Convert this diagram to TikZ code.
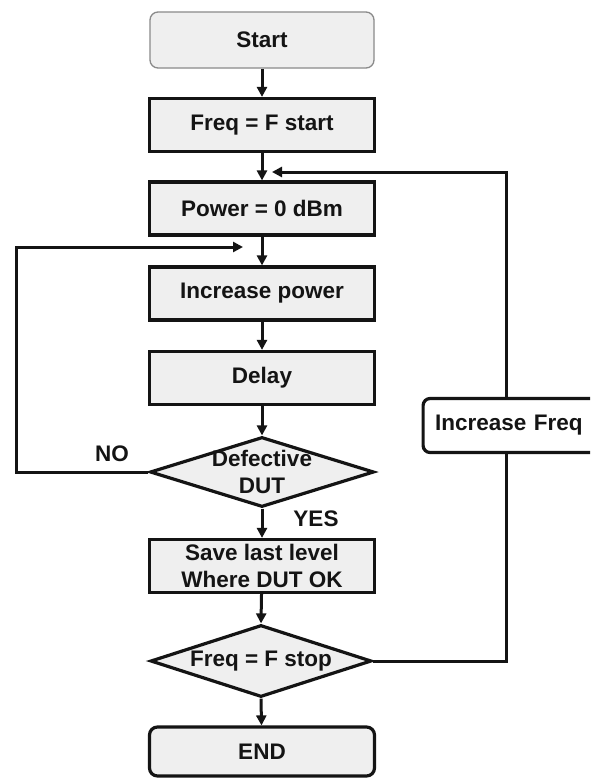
\documentclass[tikz,border=0pt]{standalone}
\usepackage{fontspec}
\setmainfont{Liberation Sans}
\usetikzlibrary{shapes.geometric,arrows.meta}
\pgfdeclarelayer{back}
\pgfdeclarelayer{bg}
\pgfsetlayers{back,bg,main}
\definecolor{boxgray}{HTML}{EFEFEF}
\definecolor{startedge}{HTML}{8A8A8A}
\definecolor{ink}{HTML}{141414}
\begin{document}
\begin{tikzpicture}[x=1pt,y=-1pt,
  txt/.style={font=\bfseries\fontsize{22.5}{27}\selectfont, text=ink, align=center},
  box/.style={txt, draw=ink, line width=3.2pt, fill=boxgray, minimum width=225pt, minimum height=53pt, inner sep=0pt},
  startbox/.style={box, draw=startedge, line width=1.3pt, rounded corners=8pt, minimum width=224pt, minimum height=56pt},
  endbox/.style={box, rounded corners=8pt},
  dia/.style={diamond, draw=ink, line width=3.2pt, fill=boxgray, inner sep=0pt},
  sidebox/.style={txt, align=left, draw=ink, line width=3.2pt, fill=white, rounded corners=7pt, inner xsep=12pt, inner ysep=0pt, minimum height=54pt, text width=175pt},
  lbl/.style={txt},
  arr/.style={draw=ink, line width=3pt, -{Triangle[length=10pt,width=10pt]}},
]
\clip (0,0) rectangle (590,780);
\begin{pgfonlayer}{back}
\fill[white] (0,0) rectangle (590,780);
\end{pgfonlayer}

\node[startbox] (start) at (262,40) {Start};
\node[box] (fstart) at (262,125) {Freq = F start};
\node[box] (power) at (262,208.5) {Power = 0 dBm};
\node[box] (incp) at (262,293.5) {Increase power};
\node[box] (delay) at (262,378) {Delay};
\node[dia, minimum width=224pt, minimum height=70pt,
      label={[txt]center:Defective\\DUT}] (def) at (262,472) {};
\node[box] (save) at (262,566) {Save last level\\Where DUT OK};
\node[dia, minimum width=221pt, minimum height=72pt,
      label={[txt]center:Freq = F stop}] (fstop) at (261,661) {};
\node[endbox, minimum height=49pt] (end) at (262,751.5) {END};
\node[sidebox, anchor=west] (incf) at (421.5,425.5) {Increase Freq};

\node[lbl] (no) at (112,454) {NO};
\node[lbl] (yes) at (316,519) {YES};

\coordinate (m1) at (272,172);
\coordinate (m2) at (243,247);
\coordinate (rr) at (506,0);
\coordinate (ll) at (16,0);

\begin{pgfonlayer}{bg}
\draw[arr] (start) -- (fstart);
\draw[arr] (fstart) -- (power);
\draw[arr] (power) -- (incp);
\draw[arr] (incp) -- (delay);
\draw[arr] (delay) -- (def.north);
\draw[arr] (def.south) -- (save);
\draw[arr] (save) -- (fstop.north);
\draw[arr] (fstop.south) -- (end);
\draw[arr] (fstop.east) -- (fstop.east -| rr) -- (m1 -| rr) -- (m1);
\draw[arr] (def.west) -- (def.west -| ll) -- (m2 -| ll) -- (m2);
\end{pgfonlayer}
\end{tikzpicture}
\end{document}
